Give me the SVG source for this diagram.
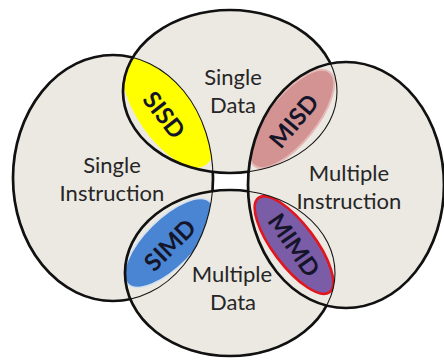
<svg xmlns="http://www.w3.org/2000/svg" xmlns:xlink="http://www.w3.org/1999/xlink" width="444" height="360" viewBox="0 0 444 360">
<style>
.fill{fill:#ECE9E2;stroke:none}
.thin{fill:none;stroke:#151515;stroke-width:1.1}
.thick{fill:none;stroke:#111;stroke-width:2.7}
.lbl{font-family:Lato,"Liberation Sans",sans-serif;font-size:22px;fill:#262626;text-anchor:middle}
.tag{font-family:Lato,"Liberation Sans",sans-serif;font-size:24px;font-weight:bold;fill:#15152a;text-anchor:middle}
</style>
<defs>
<ellipse id="eL" cx="113" cy="178" rx="100" ry="123"/>
<ellipse id="eT" cx="230" cy="91.5" rx="107" ry="81.5"/>
<ellipse id="eB" cx="230" cy="273" rx="105" ry="83"/>
<ellipse id="eR" cx="346" cy="185" rx="98" ry="123"/>
<clipPath id="cL"><use xlink:href="#eL"/></clipPath>
<clipPath id="cT"><use xlink:href="#eT"/></clipPath>
<clipPath id="cB"><use xlink:href="#eB"/></clipPath>
<clipPath id="cR"><use xlink:href="#eR"/></clipPath>
<clipPath id="oT"><path clip-rule="evenodd" d="M-20,-20H470V380H-20Z M123,91.5A107,81.5 0 1 0 337,91.5A107,81.5 0 1 0 123,91.5Z"/></clipPath>
<clipPath id="oB"><path clip-rule="evenodd" d="M-20,-20H470V380H-20Z M125,273A105,83 0 1 0 335,273A105,83 0 1 0 125,273Z"/></clipPath>
<clipPath id="oR"><path clip-rule="evenodd" d="M-20,-20H470V380H-20Z M248,185A98,123 0 1 0 444,185A98,123 0 1 0 248,185Z"/></clipPath>
</defs>
<rect width="444" height="360" fill="#fff"/>

<g id="fills">
<use xlink:href="#eL" class="fill"/>
<use xlink:href="#eT" class="fill"/>
<use xlink:href="#eB" class="fill"/>
<use xlink:href="#eR" class="fill"/>
</g>

<g id="SISD">
<g clip-path="url(#cT)"><g clip-path="url(#cL)">
<ellipse cx="0" cy="0" rx="66" ry="30" fill="#FFFF00" transform="translate(168,111) rotate(55)"/>
</g></g>
</g>
<g id="MISD">
<g clip-path="url(#cT)"><g clip-path="url(#cR)">
<ellipse cx="0" cy="0" rx="60" ry="24" fill="#D39392" stroke="#E4B9B6" stroke-width="2" transform="translate(292,119) rotate(-51)"/>
</g></g>
</g>
<g id="SIMD">
<g clip-path="url(#cB)"><g clip-path="url(#cL)">
<ellipse cx="0" cy="0" rx="58" ry="24" fill="#4A85D3" stroke="#D3E0F0" stroke-width="1.5" transform="translate(169,243) rotate(-45)"/>
</g></g>
</g>
<g id="MIMD">
<g clip-path="url(#cB)"><g clip-path="url(#cR)">
<ellipse cx="0" cy="0" rx="59" ry="21" fill="#7B5CA7" stroke="#E2161F" stroke-width="2.6" transform="translate(294,245) rotate(53)"/>
</g></g>
</g>

<g id="outlines">
<use xlink:href="#eL" class="thin"/>
<use xlink:href="#eT" class="thin"/>
<use xlink:href="#eB" class="thin"/>
<use xlink:href="#eR" class="thin"/>
<g clip-path="url(#oT)"><g clip-path="url(#oB)"><use xlink:href="#eL" class="thick"/></g></g>
<g clip-path="url(#oR)"><use xlink:href="#eT" class="thick"/></g>
<g clip-path="url(#oR)"><use xlink:href="#eB" class="thick"/></g>
<use xlink:href="#eR" class="thick"/>
</g>

<g id="labels">
<text class="lbl" x="233" y="85">Single</text>
<text class="lbl" x="233" y="113">Data</text>
<text class="lbl" x="112" y="173">Single</text>
<text class="lbl" x="112" y="201">Instruction</text>
<text class="lbl" x="349" y="181">Multiple</text>
<text class="lbl" x="349" y="209">Instruction</text>
<text class="lbl" x="232" y="282">Multiple</text>
<text class="lbl" x="233" y="310">Data</text>
<text class="tag" transform="translate(164,115) rotate(52)" y="8.5">SISD</text>
<text class="tag" transform="translate(294,121) rotate(-50)" y="8.5">MISD</text>
<text class="tag" transform="translate(170,245) rotate(-45)" y="8.5">SIMD</text>
<text class="tag" transform="translate(294,245) rotate(55)" y="8.5">MIMD</text>
</g>
</svg>
